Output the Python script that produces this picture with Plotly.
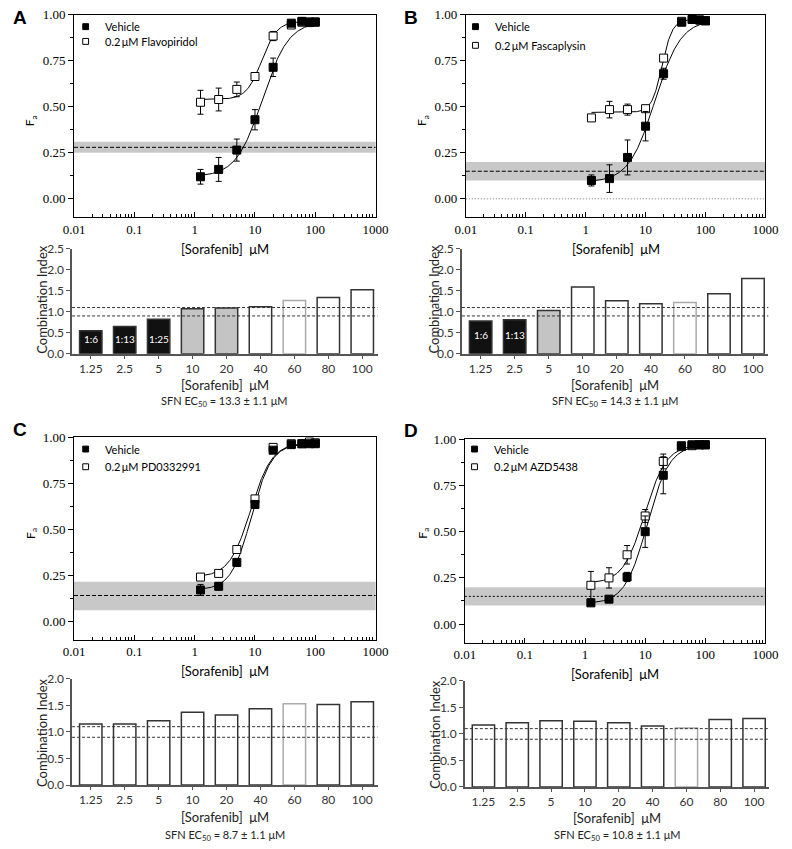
import numpy as np
import plotly.graph_objects as go

W, H = 792, 849

# ---------------- data ----------------
conc = [1.25, 2.5, 5, 10, 20, 40, 60, 80, 100]
conc_labels = ["1.25", "2.5", "5", "10", "20", "40", "60", "80", "100"]
y_tickvals = [0.0, 0.25, 0.5, 0.75, 1.0]
y_ticktext = ["0.00", "0.25", "0.50", "0.75", "1.00"]

drug_names = ["0.2\u2009\u03bcM Flavopiridol", "0.2\u2009\u03bcM Fascaplysin",
              "0.2\u2009\u03bcM PD0332991", "0.2\u2009\u03bcM AZD5438"]

# Fa values (vehicle / drug) and SEM
a_veh = [0.12, 0.16, 0.265, 0.43, 0.715, 0.955, 0.965, 0.958, 0.96]
a_veh_err = [0.04, 0.065, 0.06, 0.055, 0.05, 0, 0, 0, 0]
a_drug = [0.525, 0.54, 0.595, 0.665, 0.885, 0.945, 0.96, 0.962, 0.962]
a_drug_err = [0.065, 0.062, 0.04, 0.01, 0.025, 0, 0, 0, 0]

b_veh = [0.10, 0.11, 0.225, 0.395, 0.68, 0.96, 0.975, 0.972, 0.968]
b_veh_err = [0.03, 0.075, 0.095, 0.08, 0.03, 0, 0, 0, 0]
b_drug = [0.44, 0.485, 0.485, 0.49, 0.765, 0.965, 0.975, 0.972, 0.968]
b_drug_err = [0, 0.045, 0.03, 0.015, 0, 0, 0, 0, 0]

c_veh = [0.17, 0.19, 0.32, 0.635, 0.93, 0.96, 0.965, 0.965, 0.965]
c_veh_err = [0.03, 0.02, 0.02, 0.015, 0.01, 0, 0, 0, 0]
c_drug = [0.24, 0.26, 0.39, 0.665, 0.945, 0.965, 0.965, 0.975, 0.97]
c_drug_err = [0, 0, 0, 0, 0, 0, 0, 0, 0]

d_veh = [0.115, 0.135, 0.255, 0.50, 0.805, 0.965, 0.97, 0.97, 0.97]
d_veh_err = [0.01, 0.01, 0.025, 0.085, 0.10, 0, 0, 0, 0]
d_drug = [0.21, 0.25, 0.375, 0.585, 0.88, 0.96, 0.965, 0.97, 0.97]
d_drug_err = [0.075, 0.055, 0.05, 0.035, 0.04, 0, 0, 0, 0]

# fitted Hill model parameters: bottom, top, EC50, Hill slope
a_veh_fit = [0.12, 0.965, 13.3, 2.0]
a_drug_fit = [0.54, 0.965, 13.0, 3.4]
b_veh_fit = [0.09, 0.975, 14.3, 2.0]
b_drug_fit = [0.47, 0.975, 18.8, 5.0]
c_veh_fit = [0.17, 0.965, 8.7, 2.6]
c_drug_fit = [0.24, 0.97, 8.5, 2.45]
d_veh_fit = [0.11, 0.97, 10.8, 2.34]
d_drug_fit = [0.22, 0.97, 9.8, 2.4]

# vehicle baseline band: low, mean, high
a_band = [0.25, 0.28, 0.31]
b_band = [0.10, 0.15, 0.20]
c_band = [0.06, 0.14, 0.215]
d_band = [0.10, 0.15, 0.20]

# combination index values
a_ci = [0.55, 0.65, 0.82, 1.07, 1.09, 1.12, 1.27, 1.34, 1.52]
b_ci = [0.78, 0.81, 1.03, 1.59, 1.26, 1.19, 1.22, 1.43, 1.79]
c_ci = [1.15, 1.15, 1.21, 1.37, 1.32, 1.44, 1.53, 1.52, 1.57]
d_ci = [1.17, 1.21, 1.25, 1.24, 1.21, 1.15, 1.11, 1.27, 1.29]
a_ratio = ["1:6", "1:13", "1:25"]
b_ratio = ["1:6", "1:13"]
ec50_text = ["13.3 \u00b1 1.1", "14.3 \u00b1 1.1", "8.7 \u00b1 1.1", "10.8 \u00b1 1.1"]

# ---------------- helpers ----------------
SERIF = "Liberation Serif"
SANS = "Lato"


def dx(l, r):
    return [l / W, r / W]


def dy(t, b):
    return [1 - b / H, 1 - t / H]


def px(x):
    return x / W


def py(y):
    return 1 - y / H


def hill(p, x):
    bot, top, ec, h = p
    return bot + (top - bot) / (1 + (ec / x) ** h)


fig = go.Figure()
layout = dict(
    width=W, height=H, margin=dict(l=0, r=0, t=0, b=0),
    paper_bgcolor="white", plot_bgcolor="white", showlegend=False,
    font=dict(family=SANS, color="black"),
)
shapes = []
annotations = []


def text(x, y, s, size, color="black", family=SANS, angle=0, xanchor="center"):
    annotations.append(dict(x=px(x), y=py(y), xref="paper", yref="paper", text=s,
                            showarrow=False, xanchor=xanchor, yanchor="middle",
                            textangle=angle, font=dict(family=family, size=size, color=color)))


panels = [
    dict(letter="A", lpos=(9, 10), dxp=(65, 376), dyp=(7, 213), cxp=(63, 378), cyp=(245, 352),
         veh=a_veh, veh_err=a_veh_err, drug=a_drug, drug_err=a_drug_err,
         vfit=a_veh_fit, dfit=a_drug_fit, band=a_band, ci=a_ci, cimax=2.5,
         fills=["#111111"] * 3 + ["#c4c4c4"] * 2 + ["white"] * 4,
         ratios=a_ratio, ratio_y=0.35, zero_line=False, band_dash="4px,2px",
         xlab_y=245, fa=(21, 115), ci_title=(32, 297), ci_xt=384, ec=401,
         leg=(77, 19, 34, 95)),
    dict(letter="B", lpos=(413, 10), dxp=(469, 778), dyp=(7, 213), cxp=(465, 781), cyp=(245, 352),
         veh=b_veh, veh_err=b_veh_err, drug=b_drug, drug_err=b_drug_err,
         vfit=b_veh_fit, dfit=b_drug_fit, band=b_band, ci=b_ci, cimax=2.5,
         fills=["#111111"] * 2 + ["#c4c4c4"] + ["white"] * 6,
         ratios=b_ratio, ratio_y=0.44, zero_line=True, band_dash="4px,2px",
         xlab_y=245, fa=(425, 115), ci_title=(436, 297), ci_xt=384, ec=401,
         leg=(479, 19, 38, 497)),
    dict(letter="C", lpos=(9, 429), dxp=(65, 376), dyp=(437, 643), cxp=(63, 378), cyp=(683, 791),
         veh=c_veh, veh_err=c_veh_err, drug=c_drug, drug_err=c_drug_err,
         vfit=c_veh_fit, dfit=c_drug_fit, band=c_band, ci=c_ci, cimax=2.0,
         fills=["white"] * 9,
         ratios=[], ratio_y=0.35, zero_line=False, band_dash="4px,2px",
         xlab_y=675, fa=(21, 535), ci_title=(32, 738), ci_xt=824, ec=842,
         leg=(77, 449, 467, 95)),
    dict(letter="D", lpos=(413, 430), dxp=(468, 778), dyp=(439, 646), cxp=(468, 782), cyp=(685, 793),
         veh=d_veh, veh_err=d_veh_err, drug=d_drug, drug_err=d_drug_err,
         vfit=d_veh_fit, dfit=d_drug_fit, band=d_band, ci=d_ci, cimax=2.0,
         fills=["white"] * 9,
         ratios=[], ratio_y=0.35, zero_line=False, band_dash="2px,2px",
         xlab_y=678, fa=(425, 535), ci_title=(437, 740), ci_xt=825, ec=842,
         leg=(478, 449, 467, 496)),
]

outline = ["#333333"] * 6 + ["#aaaaaa"] + ["#333333"] * 2

for i, p in enumerate(panels):
    n1 = 2 * i + 1
    n2 = 2 * i + 2
    xa1 = "x" if n1 == 1 else f"x{n1}"
    ya1 = "y" if n1 == 1 else f"y{n1}"
    xa2, ya2 = f"x{n2}", f"y{n2}"

    # ---- dose-response axes ----
    layout["xaxis" if n1 == 1 else f"xaxis{n1}"] = dict(
        domain=dx(*p["dxp"]), anchor=ya1, type="log", range=[-2, 3],
        tickmode="linear", tick0=0, dtick=1, exponentformat="none",
        ticks="inside", ticklen=5, tickcolor="black",
        minor=dict(ticks="inside", ticklen=3, tickcolor="black", dtick="D1", showgrid=False),
        showline=True, linecolor="black", linewidth=1, mirror=True,
        showgrid=False, zeroline=False,
        tickfont=dict(family=SERIF, size=13, color="black"),
    )
    layout["yaxis" if n1 == 1 else f"yaxis{n1}"] = dict(
        domain=dy(*p["dyp"]), anchor=xa1, range=[-0.1, 1.0],
        tickmode="array", tickvals=y_tickvals, ticktext=y_ticktext,
        ticks="outside", ticklen=5, tickcolor="black",
        minor=dict(ticks="outside", ticklen=3, tickcolor="black", dtick=0.125, tick0=0, showgrid=False),
        showline=True, linecolor="black", linewidth=1, mirror=True,
        showgrid=False, zeroline=False,
        tickfont=dict(family=SERIF, size=13, color="black"),
    )

    # band and mean line
    lo, mean, hi = p["band"]
    shapes.append(dict(type="rect", xref=f"{xa1} domain", yref=ya1, x0=0, x1=1, y0=lo, y1=hi,
                       fillcolor="#c8c8c8", line=dict(width=0), layer="below"))
    shapes.append(dict(type="line", xref=f"{xa1} domain", yref=ya1, x0=0, x1=1, y0=mean, y1=mean,
                       line=dict(color="black", width=1, dash=p["band_dash"])))
    if p["zero_line"]:
        shapes.append(dict(type="line", xref=f"{xa1} domain", yref=ya1, x0=0, x1=1, y0=0, y1=0,
                           line=dict(color="#777777", width=1, dash="1px,2px")))

    # fitted curves
    xs = np.logspace(np.log10(conc[0]), np.log10(conc[-1]), 200)
    for fit in (p["vfit"], p["dfit"]):
        fig.add_trace(go.Scatter(x=xs, y=hill(fit, xs), mode="lines", xaxis=xa1, yaxis=ya1,
                                 line=dict(color="black", width=1), hoverinfo="skip"))
    # points
    fig.add_trace(go.Scatter(
        x=conc, y=p["drug"], mode="markers", xaxis=xa1, yaxis=ya1, name=drug_names[i],
        marker=dict(symbol="square", size=8, color="white", line=dict(color="black", width=1)),
        error_y=dict(type="data", array=p["drug_err"], color="black", thickness=1, width=3),
    ))
    fig.add_trace(go.Scatter(
        x=conc, y=p["veh"], mode="markers", xaxis=xa1, yaxis=ya1, name="Vehicle",
        marker=dict(symbol="square", size=8, color="black", line=dict(color="black", width=1)),
        error_y=dict(type="data", array=p["veh_err"], color="black", thickness=1, width=3),
    ))

    # legend (symbols + labels)
    sx, sy1, sy2, tx = p["leg"]
    for sy, fill in ((sy1, "black"), (sy2, "white")):
        shapes.append(dict(type="rect", xref="paper", yref="paper",
                           x0=px(sx - 3), x1=px(sx + 3), y0=py(sy + 3), y1=py(sy - 3),
                           fillcolor=fill, line=dict(color="black", width=1)))
    text(tx, sy1, "Vehicle", 11, xanchor="left")
    text(tx, sy2, drug_names[i], 11, xanchor="left")

    # ---- CI axes ----
    layout[f"xaxis{n2}"] = dict(
        domain=dx(*p["cxp"]), anchor=ya2, type="category", range=[-0.55, 8.45],
        showline=True, linecolor="#555555", linewidth=1.5,
        ticks="outside", ticklen=3, tickcolor="#555555",
        showgrid=False, zeroline=False,
        tickfont=dict(family=SANS, size=12, color="#333333"),
    )
    layout[f"yaxis{n2}"] = dict(
        domain=dy(*p["cyp"]), anchor=xa2, range=[0, p["cimax"]], dtick=0.5, tick0=0,
        tickformat=".1f", showline=True, linecolor="#555555", linewidth=1.5,
        ticks="outside", ticklen=4, tickcolor="#555555",
        showgrid=False, zeroline=False,
        tickfont=dict(family=SANS, size=12, color="#333333"),
    )
    fig.add_trace(go.Bar(
        x=conc_labels, y=p["ci"], xaxis=xa2, yaxis=ya2, width=0.66,
        marker=dict(color=p["fills"], line=dict(color=outline, width=1.5)),
        hoverinfo="skip",
    ))
    for lvl in (0.9, 1.1):
        shapes.append(dict(type="line", xref=f"{xa2} domain", yref=ya2, x0=0, x1=1, y0=lvl, y1=lvl,
                           line=dict(color="#333333", width=1, dash="3px,2px")))
    for j, r in enumerate(p["ratios"]):
        annotations.append(dict(x=j, y=p["ratio_y"], xref=xa2, yref=ya2, text=r,
                                xanchor="center", yanchor="middle",
                                showarrow=False, font=dict(family=SANS, size=10, color="white")))

    # ---- texts ----
    text(p["lpos"][0], p["lpos"][1], f"<b>{p['letter']}</b>", 19, family="Liberation Sans")
    cx = (p["dxp"][0] + p["dxp"][1]) / 2
    text(cx, p["xlab_y"], "[Sorafenib]  \u03bcM", 13)
    text(p["fa"][0], p["fa"][1], "F<sub>a</sub>", 12, angle=-90)
    text(p["ci_title"][0], p["ci_title"][1], "Combination Index", 13, color="#222222", angle=-90)
    ccx = (p["cxp"][0] + p["cxp"][1]) / 2
    text(ccx, p["ci_xt"], "[Sorafenib]  \u03bcM", 13, color="#222222")
    text(ccx, p["ec"], f"SFN EC<sub>50</sub> = {ec50_text[i]} \u03bcM", 11, color="#222222")

layout["shapes"] = shapes
layout["annotations"] = annotations
fig.update_layout(**layout)
fig.write_html("out.html", config={"displayModeBar": False},
               post_script="document.body.style.margin='0px';")
